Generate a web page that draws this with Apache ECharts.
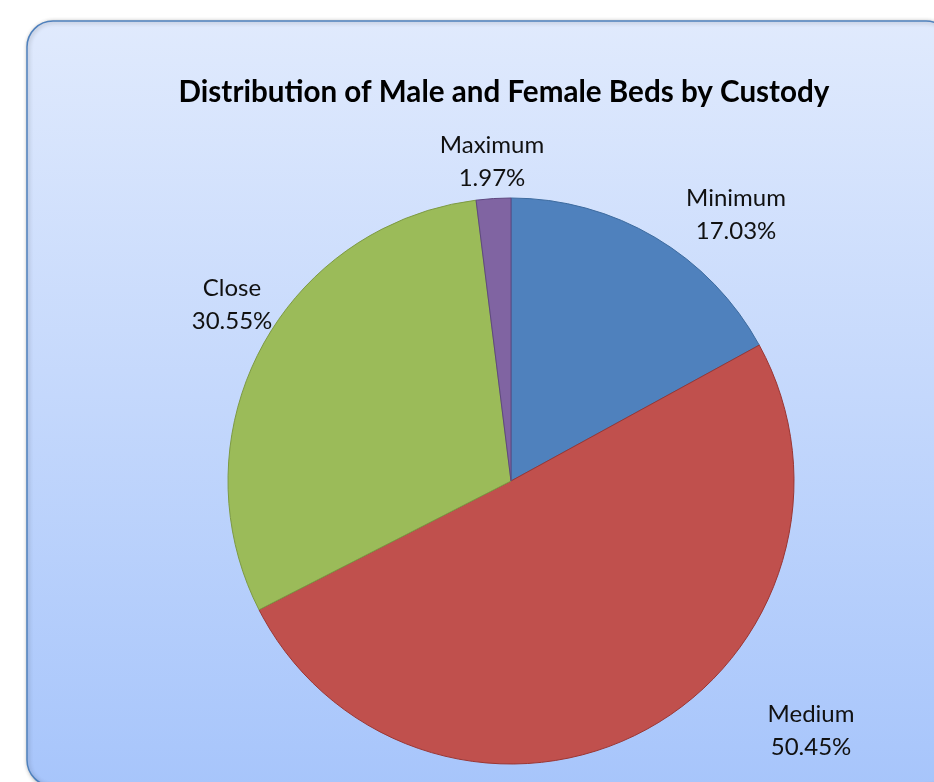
<!DOCTYPE html>
<html>
<head>
<meta charset="utf-8">
<script src="https://cdn.jsdelivr.net/npm/echarts@6/dist/echarts.min.js"></script>
<style>
  html, body { margin: 0; padding: 0; background: #fff; }
  #main { width: 934px; height: 782px; }
</style>
</head>
<body>
<div id="main"></div>
<script>
// custody levels, clockwise from 12 o'clock
var categories = ['Minimum', 'Medium', 'Close', 'Maximum'];
var shares = [17.03, 50.45, 30.55, 1.97];
var sliceColors = ['#4f81bd', '#c0504d', '#9bbb59', '#8064a2'];
var edgeColors = ['#3d6b9f', '#9b3633', '#7d9a43', '#5f4880'];
// where excel put each data label (label centres)
var labelSpots = [[736, 215], [811, 731], [232, 305], [492, 162]];

var chart = echarts.init(document.getElementById('main'));

var pieData = categories.map(function (name, i) {
  return {
    name: name,
    value: shares[i],
    itemStyle: { color: sliceColors[i], borderColor: edgeColors[i] }
  };
});

var option = {
  backgroundColor: '#fff',
  graphic: [{
    type: 'rect',
    z: -10,
    shape: { x: 27, y: 21, width: 925, height: 765, r: 26 },
    style: {
      fill: new echarts.graphic.LinearGradient(0, 0, 0, 1, [
        { offset: 0, color: '#e0eafd' },
        { offset: 1, color: '#a7c5fb' }
      ]),
      stroke: '#4f81bd',
      lineWidth: 1.5,
      shadowBlur: 4,
      shadowColor: 'rgba(0,0,0,0.3)',
      shadowOffsetX: 1,
      shadowOffsetY: 1
    }
  }],
  title: {
    text: 'Distribution of Male and Female Beds by Custody',
    left: 499,
    top: 72,
    textAlign: 'center',
    textStyle: {
      fontFamily: 'Lato',
      fontWeight: 'bold',
      fontSize: 29.6,
      color: '#000'
    }
  },
  series: [{
    type: 'pie',
    center: [511, 481],
    radius: 283,
    startAngle: 90,
    clockwise: true,
    animation: false,
    data: pieData,
    itemStyle: { borderWidth: 1 },
    label: {
      show: true,
      position: 'outside',
      formatter: function (p) { return p.name + '\n' + p.value.toFixed(2) + '%'; },
      fontFamily: 'Lato',
      fontSize: 24,
      lineHeight: 33,
      color: '#111',
      align: 'center'
    },
    labelLine: { show: false, length: 20, length2: 0 },
    labelLayout: function (p) {
      var s = labelSpots[p.dataIndex];
      return { x: s[0], y: s[1], align: 'center', verticalAlign: 'middle' };
    },
    emphasis: { disabled: true }
  }]
};

chart.setOption(option);
</script>
</body>
</html>
